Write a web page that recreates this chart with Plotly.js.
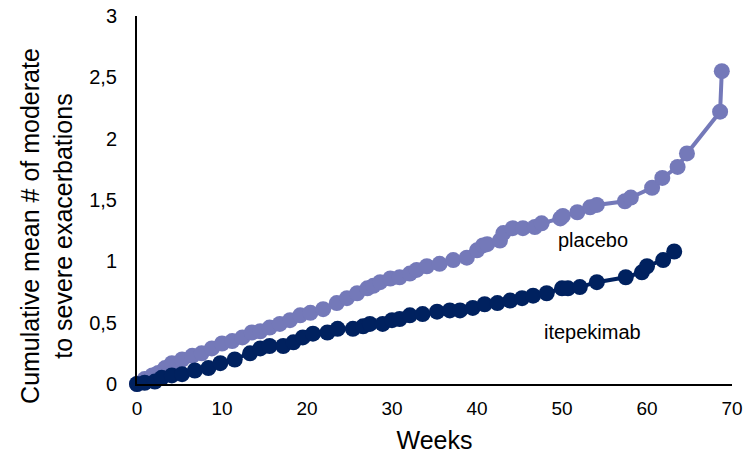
<!DOCTYPE html>
<html>
<head>
<meta charset="utf-8">
<script src="https://cdn.plot.ly/plotly-3.0.1.min.js"></script>
<style>html,body{margin:0;padding:0;background:#fff;}#chart{width:753px;height:457px;}</style>
</head>
<body>
<div id="chart"></div>
<script>
const placeboWeeks = [0,0.9,1.8,2.5,3.3,4.1,5.3,6.5,7.6,8.8,10.0,11.2,12.4,13.5,14.5,15.6,16.8,18.0,19.2,20.4,21.9,23.5,24.7,25.9,27.1,27.8,28.6,29.8,30.9,32.1,32.9,34.1,35.6,37.2,38.8,40.0,40.7,41.2,42.7,43.1,44.2,45.4,46.8,47.6,49.8,50.1,51.8,53.3,54.1,57.4,58.1,60.6,61.8,63.6,64.7,68.6,68.8];
const placeboMean = [0,0.04,0.07,0.09,0.13,0.17,0.20,0.23,0.25,0.29,0.33,0.35,0.38,0.42,0.43,0.46,0.49,0.52,0.56,0.58,0.61,0.66,0.70,0.74,0.78,0.80,0.83,0.86,0.87,0.90,0.93,0.96,0.98,1.01,1.03,1.09,1.13,1.14,1.17,1.23,1.27,1.27,1.28,1.31,1.35,1.37,1.40,1.44,1.46,1.49,1.52,1.60,1.68,1.77,1.88,2.22,2.55];
const itepWeeks = [0,0.9,2.1,2.9,4.1,5.3,6.8,8.4,9.8,11.5,13.3,14.5,15.6,17.2,18.4,19.5,20.7,22.4,23.6,25.4,26.6,27.4,28.9,30.0,30.9,32.1,33.6,35.3,36.8,38.0,39.5,40.9,42.4,43.9,45.3,46.6,48.2,50.0,50.7,52.1,54.1,57.5,59.4,60.0,61.9,63.2];
const itepMean = [0,0.01,0.02,0.05,0.07,0.08,0.11,0.13,0.17,0.20,0.25,0.29,0.31,0.31,0.34,0.38,0.41,0.42,0.45,0.45,0.47,0.49,0.49,0.52,0.53,0.56,0.57,0.59,0.60,0.60,0.62,0.65,0.66,0.68,0.70,0.72,0.74,0.78,0.78,0.79,0.83,0.87,0.91,0.96,1.01,1.08];
const seriesNames = ["placebo", "itepekimab"];
const labelPos = [[53.6, 1.17], [53.6, 0.42]];
const xTickVals = [0,10,20,30,40,50,60,70];
const yTickVals = [0,0.5,1,1.5,2,2.5,3];
const yTitle = "Cumulative mean # of moderate<br>to severe exacerbations";

const FONT = "Arial, 'Liberation Sans', sans-serif";
const colors = ["#7479B9", "#00215F"];

const traces = [
  {x: placeboWeeks, y: placeboMean, name: seriesNames[0], mode: "lines+markers",
   line: {color: colors[0], width: 4}, marker: {color: colors[0], size: 16}, cliponaxis: false},
  {x: itepWeeks, y: itepMean, name: seriesNames[1], mode: "lines+markers",
   line: {color: colors[1], width: 4}, marker: {color: colors[1], size: 16}, cliponaxis: false}
];

const annotations = seriesNames.map((n, i) => ({
  x: labelPos[i][0], y: labelPos[i][1], xref: "x", yref: "y",
  text: n, showarrow: false, font: {size: 20, family: FONT, color: "#000"}
}));
annotations.push({
  x: -0.151, y: 0.43, xref: "paper", yref: "paper", xanchor: "center", yanchor: "middle",
  text: yTitle, textangle: -90, showarrow: false,
  font: {size: 25, family: FONT, color: "#000"}
});

const layout = {
  width: 753, height: 457,
  margin: {l: 137, r: 21, t: 16, b: 73},
  paper_bgcolor: "#fff", plot_bgcolor: "#fff",
  showlegend: false,
  separators: ", ",
  font: {family: FONT, color: "#000", size: 19},
  xaxis: {
    range: [0, 70], tickvals: xTickVals, showgrid: false, zeroline: false,
    showline: true, linecolor: "#000", linewidth: 2,
    ticks: "", ticklabelstandoff: 6,
    tickfont: {size: 19, family: FONT},
    title: {text: "Weeks", font: {size: 25, family: FONT}, standoff: 14}
  },
  yaxis: {
    range: [0, 3], tickvals: yTickVals, showgrid: false, zeroline: false,
    showline: true, linecolor: "#000", linewidth: 2,
    ticks: "", ticklabelstandoff: 14,
    tickfont: {size: 20, family: FONT}
  },
  annotations: annotations
};

Plotly.newPlot("chart", traces, layout, {displayModeBar: false, staticPlot: true});
</script>
</body>
</html>
